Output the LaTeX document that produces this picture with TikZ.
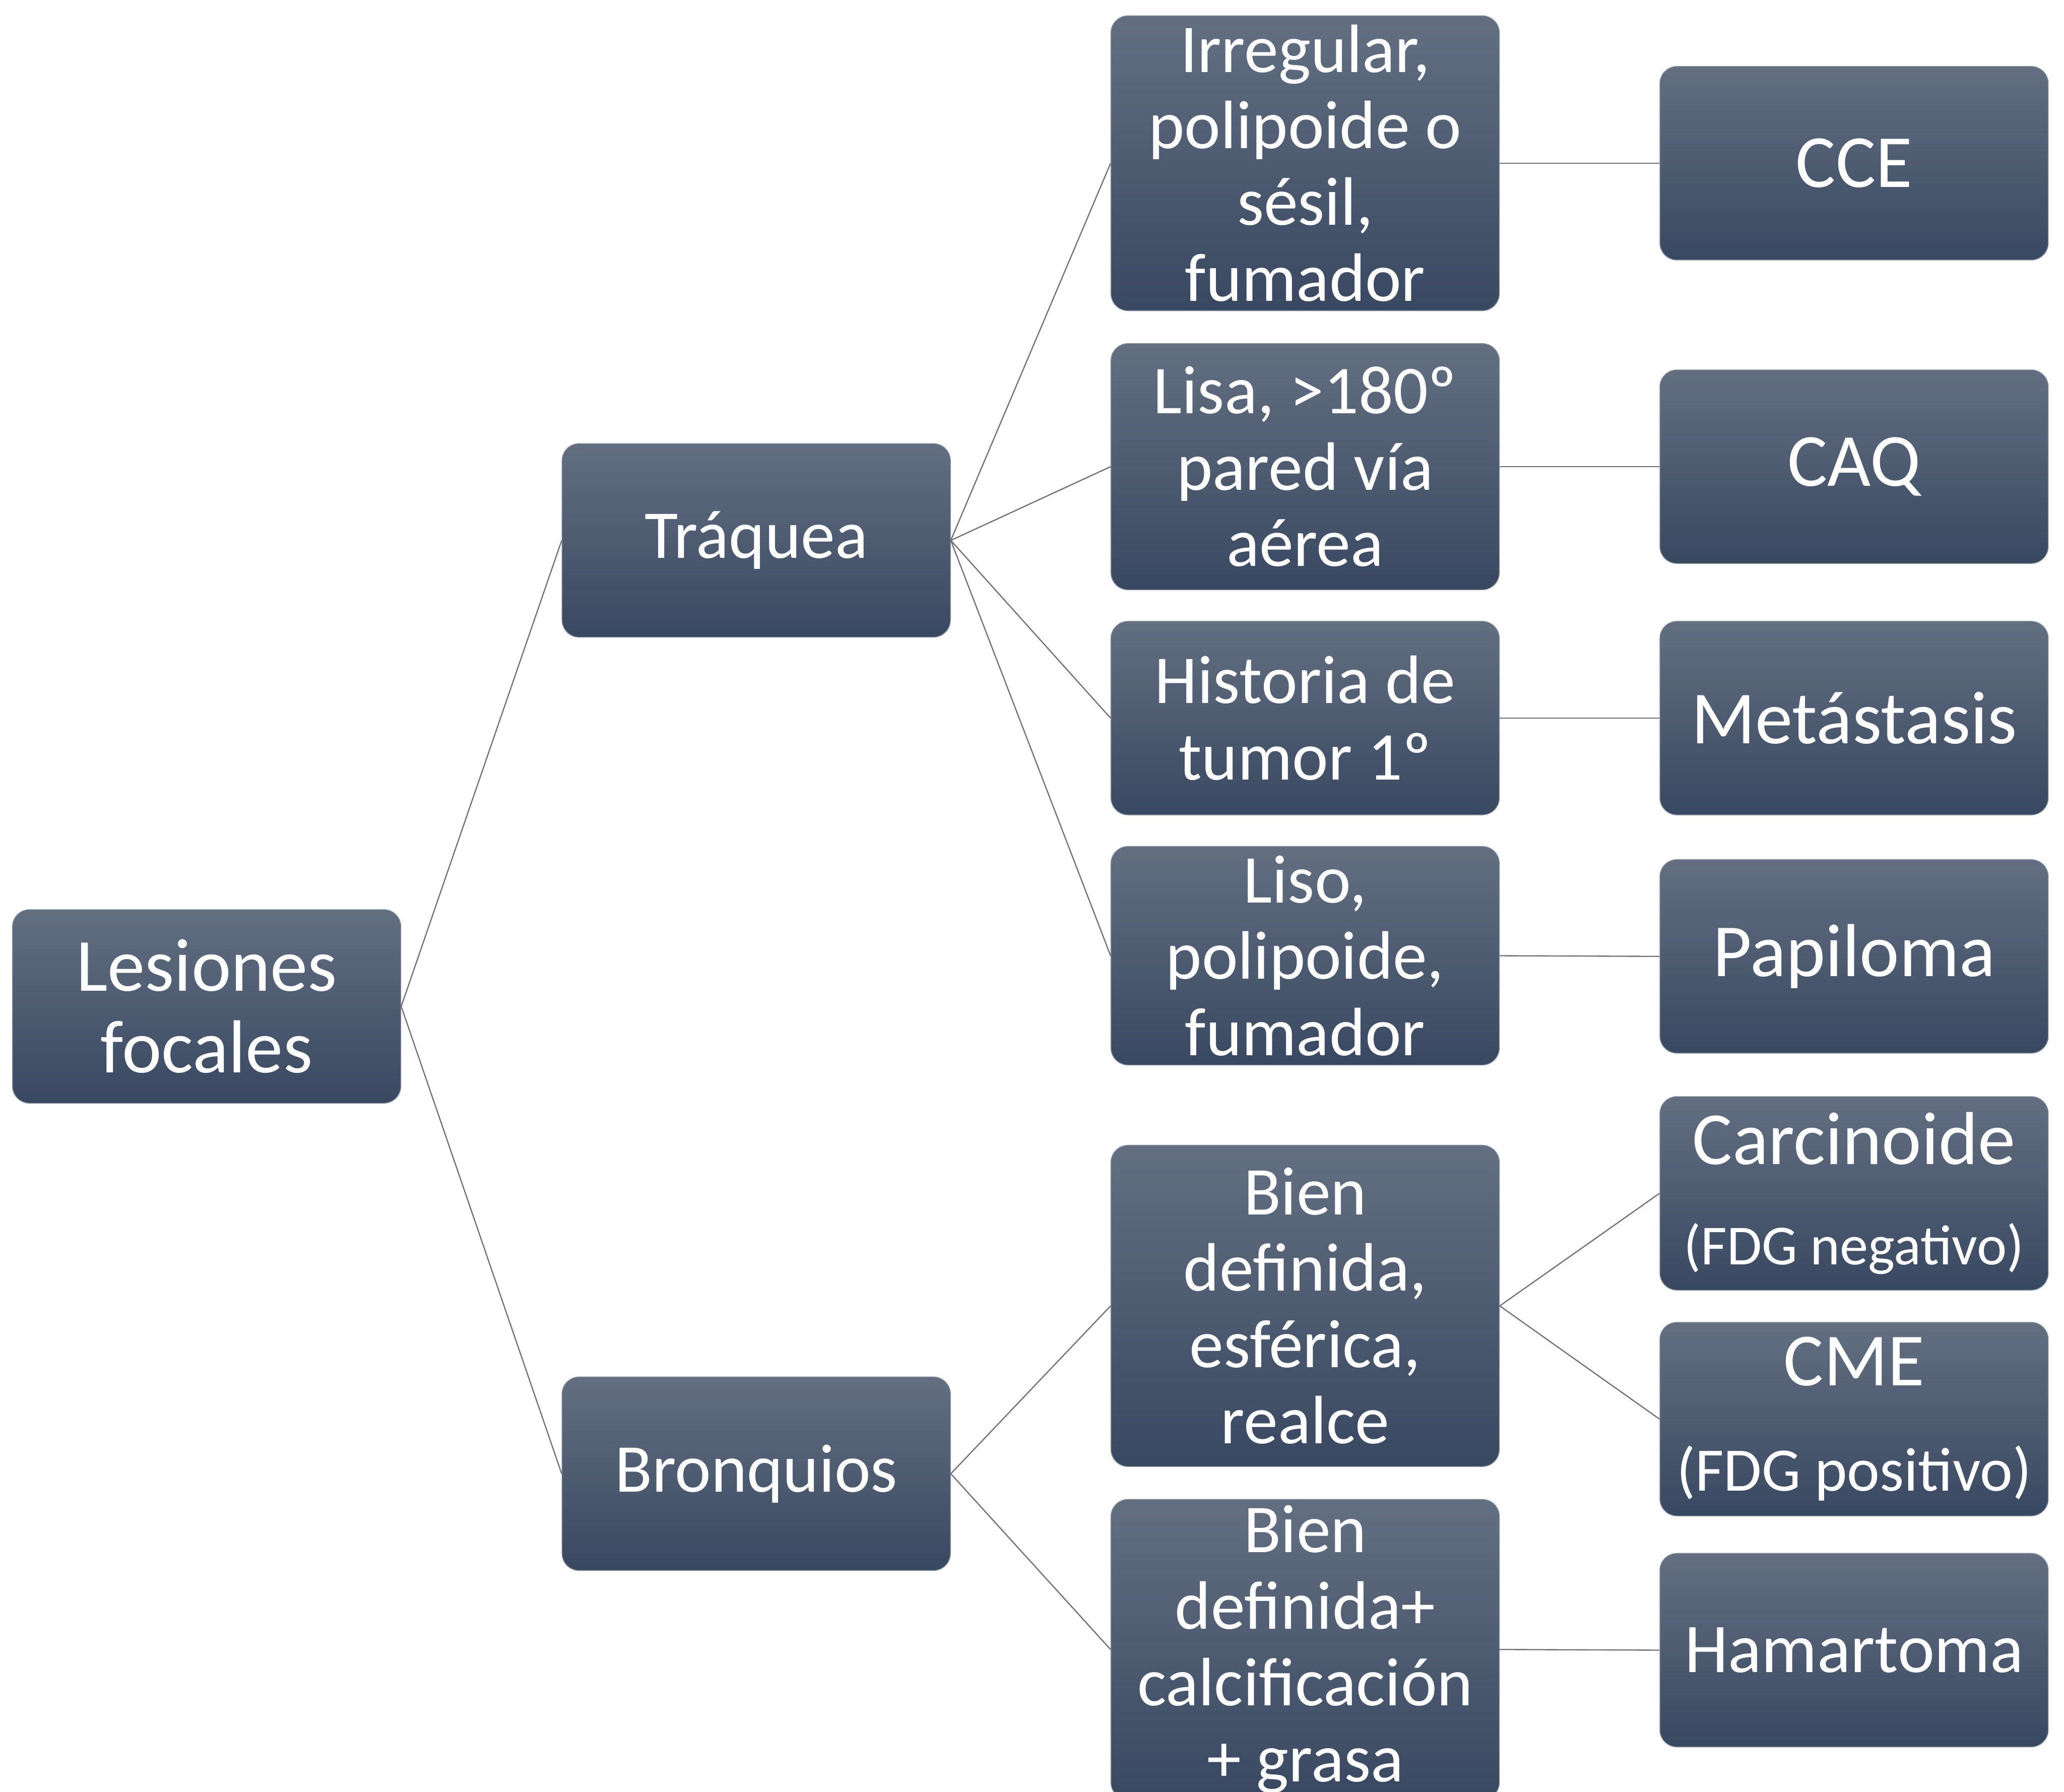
\documentclass[tikz,border=0pt]{standalone}
\usepackage{fontspec}
\setmainfont{Carlito}
\definecolor{boxtop}{RGB}{99,111,129}
\definecolor{boxbot}{RGB}{57,72,97}
\definecolor{boxrim}{RGB}{125,135,150}
\definecolor{linec}{RGB}{112,112,112}
\tikzset{
  box/.style={rectangle, rounded corners=13pt, top color=boxtop, bottom color=boxbot,
    draw=boxrim, line width=0.6pt, text=white, align=center, minimum width=295pt,
    inner sep=0pt},
  lvlone/.style={box, minimum height=147pt, font=\fontsize{52}{62}\selectfont},
  lvltwo/.style={box, font=\fontsize{52}{58}\selectfont},
  lvlthree/.style={box, minimum height=147pt, font=\fontsize{57}{66}\selectfont},
  conn/.style={draw=linec, line width=0.9pt}
}
\begin{document}
\begin{tikzpicture}[x=1pt,y=-1pt]
\useasboundingbox (0,0) rectangle (1568,1361);
\node[lvlone, font=\fontsize{57}{62}\selectfont] (L) at (157,764.5) {Lesiones\\focales};
\node[lvlone] (T) at (574.5,410.5) {Tráquea};
\node[lvlone] (B) at (574.5,1119.5) {Bronquios};
\node[lvltwo, minimum height=224pt] (A) at (991.5,124) {Irregular,\\polipoide o\\sésil,\\fumador};
\node[lvltwo, minimum height=187pt] (Bb) at (991.5,354.5) {Lisa, >180º\\pared vía\\aérea};
\node[lvltwo, minimum height=147pt] (C) at (991.5,545.5) {Historia de\\tumor 1º};
\node[lvltwo, minimum height=166pt] (D) at (991.5,726) {Liso,\\polipoide,\\fumador};
\node[lvltwo, minimum height=244pt] (E) at (991.5,992) {Bien\\definida,\\esférica,\\realce};
\node[lvltwo, minimum height=228pt] (F) at (991.5,1253) {Bien\\definida+\\calcificación\\+ grasa};
\node[lvlthree] (R1) at (1408.5,124) {CCE};
\node[lvlthree] (R2) at (1408.5,354.5) {CAQ};
\node[lvlthree] (R3) at (1408.5,545.5) {Metástasis};
\node[lvlthree] (R4) at (1408.5,726.5) {Papiloma};
\node[lvlthree] (R5) at (1408.5,906.5) {Carcinoide\\[10pt]{\fontsize{43}{50}\selectfont (FDG negativo)}};
\node[lvlthree] (R6) at (1408.5,1078) {CME\\[14pt]{\fontsize{47}{54}\selectfont (FDG positivo)}};
\node[lvlthree, font=\fontsize{53}{62}\selectfont] (R7) at (1408.5,1253.5) {Hamartoma};
\draw[conn] (L.east) -- (T.west);
\draw[conn] (L.east) -- (B.west);
\draw[conn] (T.east) -- (A.west);
\draw[conn] (T.east) -- (Bb.west);
\draw[conn] (T.east) -- (C.west);
\draw[conn] (T.east) -- (D.west);
\draw[conn] (B.east) -- (E.west);
\draw[conn] (B.east) -- (F.west);
\draw[conn] (A.east) -- (R1.west);
\draw[conn] (Bb.east) -- (R2.west);
\draw[conn] (C.east) -- (R3.west);
\draw[conn] (D.east) -- (R4.west);
\draw[conn] (E.east) -- (R5.west);
\draw[conn] (E.east) -- (R6.west);
\draw[conn] (F.east) -- (R7.west);
\end{tikzpicture}
\end{document}
